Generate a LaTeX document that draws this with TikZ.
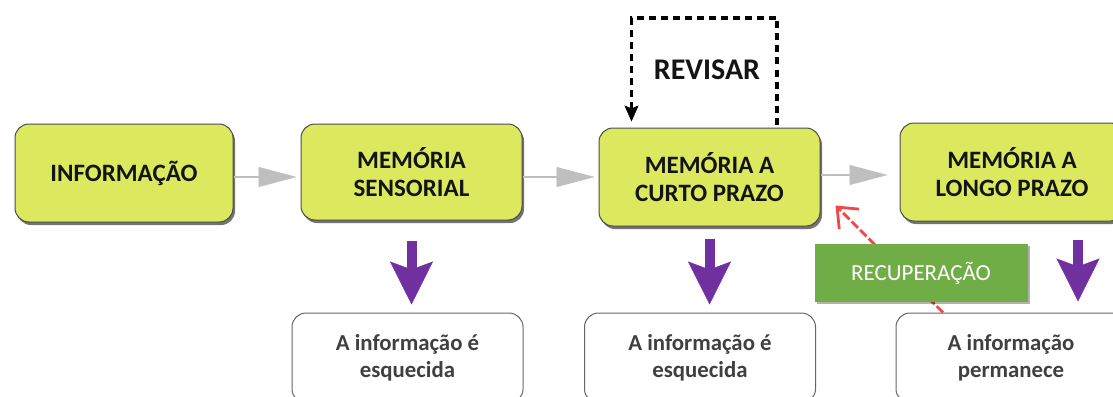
\documentclass[tikz,border=0pt]{standalone}
\usepackage{fontspec}
\setmainfont{Carlito}
\usetikzlibrary{arrows.meta,shadows,calc}
\definecolor{limefill}{RGB}{220,233,94}
\definecolor{recgreen}{RGB}{112,173,71}
\definecolor{purp}{RGB}{112,48,160}
\definecolor{redc}{RGB}{240,72,72}
\definecolor{greyarr}{RGB}{191,191,191}
\tikzset{
  membox/.style={draw=black!70, line width=1pt, fill=limefill, rounded corners=14pt,
    minimum height=98pt, align=center, inner sep=0pt,
    font=\fontsize{25}{28.5}\selectfont\bfseries, text=black!92,
    drop shadow={shadow xshift=2pt, shadow yshift=-3pt, opacity=.55, fill=black}},
  outbox/.style={draw=black!60, line width=1pt, fill=white, rounded corners=14pt,
    minimum width=231pt, minimum height=90pt, align=center, inner sep=0pt,
    font=\fontsize{22.8}{27.5}\selectfont\bfseries, text=black!75},
  recbox/.style={fill=recgreen, minimum width=213pt, minimum height=58pt, inner sep=0pt,
    text=white, font=\fontsize{23}{26}\selectfont,
    drop shadow={shadow xshift=2pt, shadow yshift=-2pt, opacity=.3, fill=black}},
  greyarrow/.style={draw=greyarr, line width=2.5pt, -{Triangle[length=38pt,width=20pt,line width=0.5pt]}},
  purparrow/.style={draw=purp, line width=10pt, -{Stealth[length=43pt,width=43pt,inset=8pt,line width=0.5pt]}},
  revline/.style={draw=black, line width=3.5pt, dash pattern=on 7pt off 5pt, line join=miter,
    -{Stealth[length=16pt,width=14pt,inset=3pt,line width=0.5pt]}},
  redarrow/.style={draw=redc, line width=2.8pt, dash pattern=on 9pt off 3pt,
    -{Straight Barb[length=17pt,width=28pt,line width=2.8pt]}},
}
\begin{document}
\begin{tikzpicture}[x=1pt,y=-1pt]
\useasboundingbox (0,0) rectangle (1113,396);
\fill[white] (0,0) rectangle (1113,396);

% main boxes
\node[membox, minimum width=218pt] (info) at (124,173) {INFORMAÇÃO};
\node[membox, minimum width=221pt, minimum height=96pt] (sens) at (411.5,172) {MEMÓRIA\\SENSORIAL};
\node[membox, minimum width=221pt] (curto) at (709.5,177) {MEMÓRIA A\\CURTO PRAZO};
\node[membox, minimum width=224pt] (longo) at (1012,172) {MEMÓRIA A\\LONGO PRAZO};

% grey arrows
\draw[greyarrow] ([yshift=-4pt]info.east) -- ([yshift=-5pt,xshift=-4pt]sens.west);
\draw[greyarrow] ([yshift=-5pt]sens.east) -- ([xshift=-4pt]curto.west);
\draw[greyarrow] ([yshift=2pt]curto.east) -- ([yshift=-3pt,xshift=-12pt]longo.west);

% revisar loop
\node[font=\fontsize{30}{34}\selectfont\bfseries, text=black!92] (rev) at (707,70) {REVISAR};
\coordinate (rtop) at (700,18);
\draw[revline, shorten <=3pt, shorten >=6pt] ([xshift=67.5pt]curto.north) |- (rtop) -| ([xshift=-78pt]curto.north);

% bottom boxes
\node[outbox] (b1) at (407.5,358) {A informação é\\esquecida};
\node[outbox] (b2) at (700,358) {A informação é\\esquecida};
\node[outbox, minimum width=230pt] (b3) at (1011,358) {A informação\\permanece};

% red retrieval arrow
\coordinate (r1) at ([xshift=-68pt]b3.north);
\coordinate (r2) at ([xshift=15pt,yshift=21pt]curto.south east);
\draw[redarrow] (r1) -- (r2);

% recuperacao box
\node[recbox] (rec) at (921,273) {RECUPERAÇÃO};

% purple arrows
\draw[purparrow, shorten <=20pt, shorten >=8pt] (sens.south) -- (sens.south |- b1.north);
\draw[purparrow, shorten <=12pt, shorten >=8pt] (curto.south) -- (curto.south |- b2.north);
\draw[purparrow, shorten <=18pt, shorten >=11pt] ([xshift=66pt]longo.south) -- ([xshift=67pt]b3.north);
\end{tikzpicture}
\end{document}
